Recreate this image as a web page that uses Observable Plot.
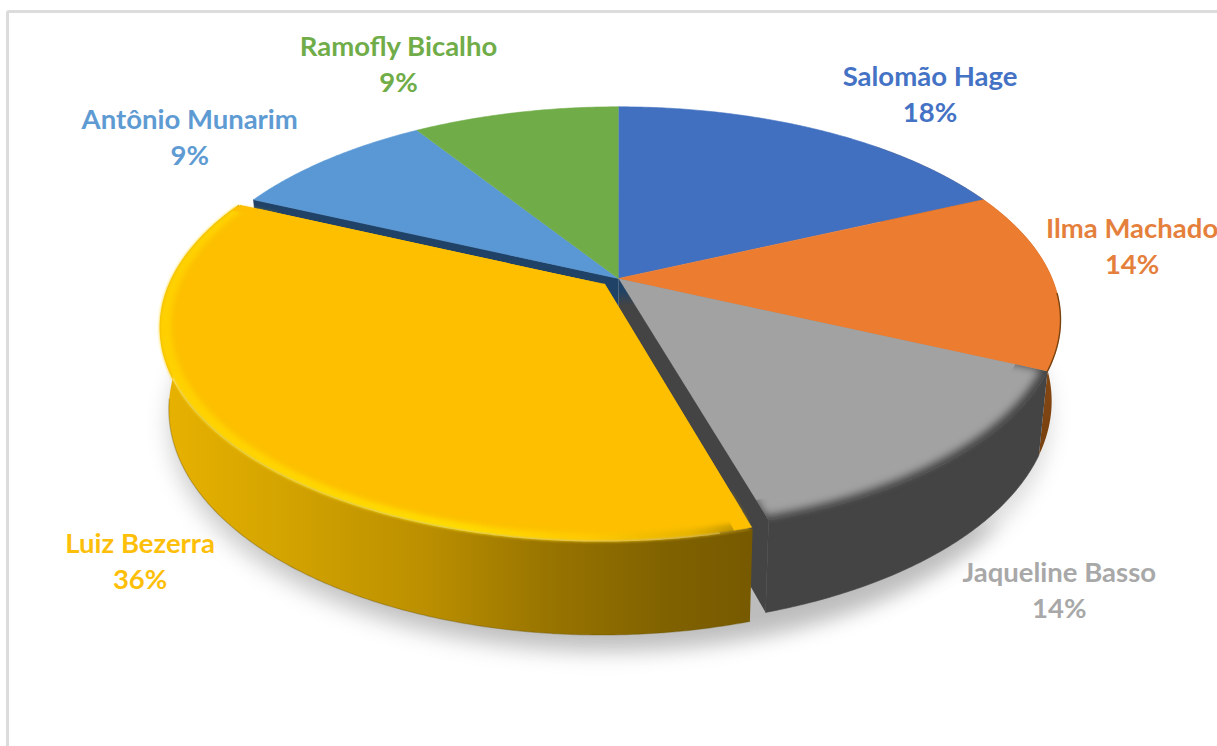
<!DOCTYPE html>
<html>
<head>
<meta charset="utf-8">
<script src="https://cdn.jsdelivr.net/npm/d3@7"></script>
<script src="https://cdn.jsdelivr.net/npm/@observablehq/plot@0.6"></script>
<style>
  html, body { margin: 0; background: #fff; overflow: hidden; }
  #frame { position: absolute; left: 6px; top: 10px; width: 1500px; height: 1000px;
           border: 3px solid #dcdcdc; border-radius: 3px; }
  #chart { position: absolute; left: 0; top: 0; }
</style>
</head>
<body>
<div id="frame"></div>
<div id="chart"></div>
<script>
// Share of mentions per author; the slices run clockwise from twelve o'clock.
const names = ["Salomão Hage", "Ilma Machado", "Jaqueline Basso", "Luiz Bezerra", "Antônio Munarim", "Ramofly Bicalho"];
const mentions = [4, 3, 3, 8, 2, 2];
const faceColors = ["#4270c0", "#ec7c30", "#a2a2a2", "#fdbf00", "#5a98d5", "#70ac48"];
const textColors = ["#4472c4", "#e5803c", "#a8a8a8", "#fdbf0a", "#5f9bd3", "#70ac48"];
// Label block offset from the slice's rim point, in pixels.
const labelNudgeX = [110, 80, 108, -103, -138, -117];
const labelNudgeY = [-38, -34, 128, 127, -24, -50];

// Perspective disc: the far rim sits closer to the hub than the near rim.
const hubX = 618, hubY = 278, spanX = 433.6, spanY = 205;
const tilt = 0.194, wallDrop = 79 / spanY, floorShrink = 0.98;
const explodedIndex = 3, explodeBy = 0.042;

const total = d3.sum(mentions);
const slices = d3.pie().sort(null)(mentions);

function project(angle, radius, offset, level) {
  const u = offset[0] + radius * Math.sin(angle);
  const v = offset[1] + radius * Math.cos(angle);
  const w = 1 + tilt * v;
  return level === 0
    ? {x: u / w, y: v / w}
    : {x: floorShrink * u / w, y: floorShrink * v / w - level * wallDrop / w};
}
function arc(a0, a1, radius, offset, level = 0) {
  const n = Math.max(2, Math.ceil(Math.abs(a1 - a0) / 0.008));
  return d3.range(n + 1).map((i) => project(a0 + (a1 - a0) * i / n, radius, offset, level));
}
const hub = (offset, level = 0) => project(0, 0, offset, level);
const still = [0, 0];
const midAngle = (s) => (s.startAngle + s.endAngle) / 2;
const outward = (s) => [explodeBy * Math.sin(midAngle(s)), explodeBy * Math.cos(midAngle(s))];

const face = (s, offset, radius = 1) => [hub(offset), ...arc(s.startAngle, s.endAngle, radius, offset)];
const band = (s, offset, outer, inner) => [
  ...arc(s.startAngle + 0.004, s.endAngle - 0.012, outer, offset),
  ...arc(s.endAngle - 0.012, s.startAngle + 0.004, inner, offset)
];
const rimWall = (a0, a1, offset) => [...arc(a0, a1, 1, offset), ...arc(a1, a0, 1, offset, 1)];
const cutWall = (a, offset) => [hub(offset), project(a, 1, offset, 0), project(a, 1, offset, 1), hub(offset, 1)];

const shape = (points, options) => Plot.line(points, {x: "x", y: "y", stroke: "none", ...options});
const solid = (points, color, options = {}) =>
  shape(points, {fill: color, stroke: color, strokeWidth: 0.6, ...options});

// Shared gradients for the side walls and the bevel on the exploded slice.
function gradients() {
  const g = d3.create("svg:g");
  const defs = g.append("defs");
  const add = (id, stops, vertical) => {
    const lg = defs.append("linearGradient").attr("id", id)
      .attr("x1", 0).attr("y1", 0).attr("x2", vertical ? 0 : 1).attr("y2", vertical ? 1 : 0);
    stops.forEach(([o, c]) => lg.append("stop").attr("offset", o).attr("stop-color", c));
  };
  add("yellowWall", [[0, "#e8b200"], [0.2, "#d4a400"], [0.45, "#bb8f00"], [0.65, "#997500"], [0.85, "#806200"], [1, "#775a00"]]);
  add("yellowBevel", [[0, "#ffd000"], [0.3, "#ffd800"], [0.5, "#ffdc00"], [0.72, "#ffca00"], [0.9, "#e8b400"], [1, "#b88e00"]]);
  add("grayCut", [[0, "#1f4266"], [0.035, "#1f4266"], [0.08, "#444444"], [1, "#444444"]], true);
  add("orangeWall", [[0, "#a85a1c"], [1, "#77400f"]], true);
  return g.node();
}

const yellow = slices[explodedIndex];
const gray = slices[2];
const orange = slices[1];
const blueSlice = slices[4];
const shift = outward(yellow);

const labelRows = slices.map((s, i) => {
  const rim = project(midAngle(s), 1, still, 0);
  return {...rim, text: `${names[i]}\n${d3.format(".0%")(s.data / total)}`, color: textColors[i], dx: labelNudgeX[i], dy: labelNudgeY[i]};
});

const chart = Plot.plot({
  width: 1217,
  height: 746,
  margin: 0,
  style: {background: "transparent"},
  x: {domain: [-1, 1], range: [hubX - spanX, hubX + spanX], axis: null},
  y: {domain: [-1, 1], range: [hubY + spanY, hubY - spanY], axis: null},
  marks: [
    gradients,
    // Soft ground shadow under the disc.
    shape(arc(0, 2 * Math.PI, 1, still, 1.2), {fill: "#000", fillOpacity: 0.13, imageFilter: "blur(10px)"}),
    shape(arc(Math.PI * 0.7, Math.PI * 1.6, 1.005, shift, 1.18), {fill: "#000", fillOpacity: 0.15, imageFilter: "blur(10px)"}),
    // Walls and faces of the slices that stay in place, back to front.
    solid(rimWall(orange.startAngle - 0.4, orange.endAngle, still), "url(#orangeWall)", {stroke: "none"}),
    solid(rimWall(gray.startAngle, gray.endAngle, still), "#444444"),
    solid(face(gray, still), "#444444"),
    solid(face(gray, still, 0.985), faceColors[2], {imageFilter: "blur(4.5px)"}),
    solid(face(gray, still, 0.93), faceColors[2]),
    solid(cutWall(gray.endAngle, still), "url(#grayCut)", {stroke: "none"}),
    solid(cutWall(blueSlice.startAngle, still), "#1f4266"),
    ...slices.map((s, i) => i === 2 || i === explodedIndex ? null : solid(face(s, still), faceColors[i])),
    shape(arc(orange.startAngle + 0.5, orange.endAngle, 1, still), {stroke: "#7a4410", strokeWidth: 1.4, imageFilter: "blur(0.5px)"}),
    // The exploded slice sits in front of everything else.
    solid(rimWall(gray.endAngle, blueSlice.startAngle, shift), "url(#yellowWall)", {stroke: "none"}),
    shape(arc(gray.endAngle, Math.PI * 1.45, 1, shift, 1), {stroke: "#6b5200", strokeWidth: 1.2, strokeOpacity: 0.35, imageFilter: "blur(0.5px)"}),
    solid(band(yellow, shift, 1, 0.9), "url(#yellowBevel)", {stroke: "none", imageFilter: "blur(1.5px)"}),
    solid(band(yellow, shift, 0.975, 0.88), faceColors[3], {stroke: "none", imageFilter: "blur(2.5px)"}),
    solid(face(yellow, shift, 0.94), faceColors[3]),
    // Crisp corners where the cut edges meet the rim.
    solid(face({startAngle: yellow.startAngle, endAngle: yellow.startAngle + 0.035}, shift, 0.995), faceColors[3]),
    solid(face({startAngle: yellow.endAngle - 0.035, endAngle: yellow.endAngle}, shift, 0.995), faceColors[3]),
    ...labelRows.map((d) => Plot.text([d], {
      x: "x", y: "y", text: "text", fill: d.color, dx: d.dx, dy: d.dy,
      fontFamily: "Lato", fontWeight: 700, fontSize: 27.5, lineHeight: 1.31
    }))
  ]
});
document.getElementById("chart").append(chart);
</script>
</body>
</html>
